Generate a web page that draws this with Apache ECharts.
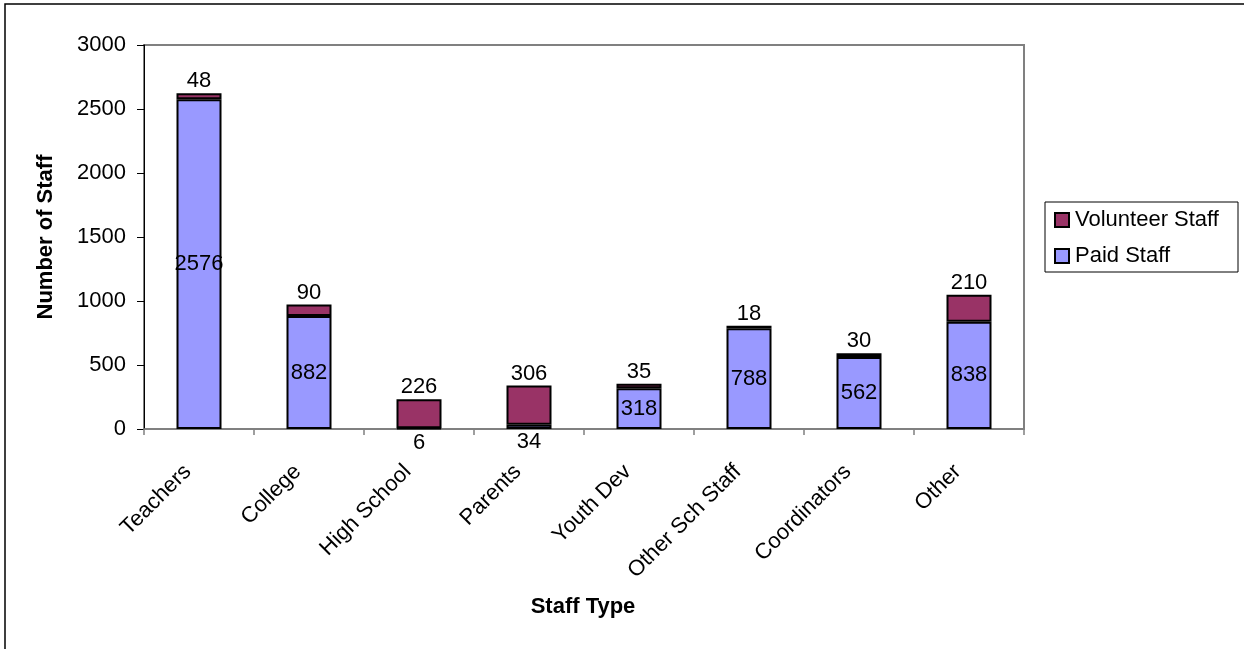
<!DOCTYPE html>
<html>
<head>
<meta charset="utf-8">
<script src="https://cdn.jsdelivr.net/npm/echarts@6/dist/echarts.min.js"></script>
<style>
html, body { margin: 0; padding: 0; background: #fff; }
#main { width: 1244px; height: 649px; }
</style>
</head>
<body>
<div id="main"></div>
<script>
var categories = ['Teachers', 'College', 'High School', 'Parents', 'Youth Dev', 'Other Sch Staff', 'Coordinators', 'Other']
var paidStaff = [2576, 882, 6, 34, 318, 788, 562, 838]
var volunteerStaff = [48, 90, 226, 306, 35, 18, 30, 210]
var yTicks = [0, 500, 1000, 1500, 2000, 2500, 3000]

var font = 'Liberation Sans, Arial, sans-serif'
var fs = 22
var chart = echarts.init(document.getElementById('main'))

// small paid values sit under the axis, like the original
var paidData = paidStaff.map(function (v) {
  if (v < 100) {
    return { value: v, label: { position: 'bottom', distance: 2 } }
  }
  return v
})

chart.setOption({
  backgroundColor: '#fff',
  animation: false,
  textStyle: { fontFamily: font, color: '#000' },
  grid: {
    left: 144, right: 220, top: 45, bottom: 220,
    show: true, borderColor: '#808080', borderWidth: 2
  },
  graphic: [
    { type: 'rect', shape: { x: 5, y: 4, width: 1400, height: 800 }, style: { fill: null, stroke: '#000', lineWidth: 1.5 }, silent: true },
    { type: 'rect', shape: { x: 1045, y: 202, width: 193, height: 70 }, style: { fill: null, stroke: '#000', lineWidth: 1 }, silent: true },
    { type: 'text', x: 46, y: 237, rotation: Math.PI / 2, style: { text: 'Number of Staff', font: 'bold 22px ' + font, fill: '#000', align: 'center', verticalAlign: 'middle' } },
    { type: 'text', x: 583, y: 607, style: { text: 'Staff Type', font: 'bold 22px ' + font, fill: '#000', align: 'center', verticalAlign: 'middle' } }
  ],
  legend: {
    orient: 'vertical',
    left: 1054, top: 209,
    padding: 0,
    itemWidth: 14, itemHeight: 14, itemGap: 14,
    icon: 'rect',
    data: ['Volunteer Staff', 'Paid Staff'],
    textStyle: { fontSize: fs, fontFamily: font, color: '#000', padding: [0, 0, 0, 1] }
  },
  xAxis: {
    type: 'category',
    data: categories,
    axisLine: { lineStyle: { color: '#808080', width: 1.5 } },
    axisTick: { show: true, length: 6, lineStyle: { color: '#808080', width: 1.5 } },
    axisLabel: { rotate: 45, fontSize: fs, color: '#000', margin: 28, padding: [0, 16, 0, 0], interval: 0 }
  },
  yAxis: {
    type: 'value',
    min: 0, max: 3000, interval: 500,
    splitLine: { show: false },
    axisLine: { show: true, lineStyle: { color: '#000', width: 1 } },
    axisTick: { show: true, length: 7, lineStyle: { color: '#000' } },
    axisLabel: {
      fontSize: fs, color: '#000', margin: 18,
      formatter: function (v) { return yTicks.indexOf(v) >= 0 ? String(v) : '' }
    }
  },
  series: [
    {
      name: 'Paid Staff',
      type: 'bar',
      stack: 'staff',
      barWidth: 45,
      data: paidData,
      itemStyle: { color: '#9999FF', borderColor: '#000', borderWidth: 2 },
      label: { show: true, position: 'inside', fontSize: fs, color: '#000', fontFamily: font }
    },
    {
      name: 'Volunteer Staff',
      type: 'bar',
      stack: 'staff',
      barWidth: 45,
      data: volunteerStaff,
      itemStyle: { color: '#993366', borderColor: '#000', borderWidth: 2 },
      label: { show: true, position: 'top', distance: 1, fontSize: fs, color: '#000', fontFamily: font }
    }
  ]
})
window.onresize = chart.resize
</script>
</body>
</html>
